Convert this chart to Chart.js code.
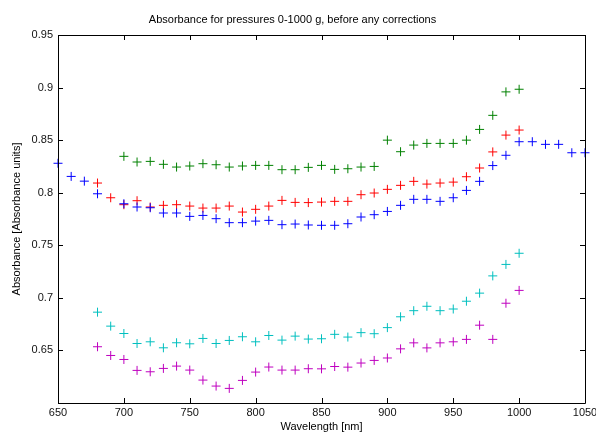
<!DOCTYPE html>
<html>
<head>
<meta charset="utf-8">
<script src="https://cdn.jsdelivr.net/npm/chart.js@4"></script>
<style>
  html, body { margin: 0; padding: 0; background: #fff; }
  #wrap { width: 596px; height: 435px; position: relative; }
</style>
</head>
<body>
<div id="wrap"><canvas id="c" width="596" height="435"></canvas></div>
<script>
// Wavelength grid (nm)
const wavelengths = [650,660,670,680,690,700,710,720,730,740,750,760,770,780,790,800,810,820,830,840,850,860,870,880,890,900,910,920,930,940,950,960,970,980,990,1000,1010,1020,1030,1040,1050];

// Series values (null = no measurement)
const blueValues = [0.828,0.8155,0.811,0.799,null,0.7895,0.7864,0.7857,0.7807,0.7807,0.7775,0.7784,0.7753,0.7715,0.7715,0.773,0.7737,0.7696,0.7702,0.7693,0.769,0.769,0.7705,0.7769,0.7791,0.7822,0.788,0.7937,0.7937,0.7918,0.7952,0.8022,0.8108,0.8258,0.8356,0.8485,0.8485,0.846,0.846,0.838,0.838];
const redValues = [null,null,null,0.8092,0.7952,0.7886,0.7924,0.7864,0.788,0.7886,0.7873,0.7854,0.7854,0.7873,0.7816,0.7842,0.7873,0.7927,0.7908,0.7906,0.7911,0.7918,0.7918,0.7981,0.7997,0.8032,0.807,0.8108,0.8082,0.8092,0.8101,0.8152,0.8235,0.8388,0.8548,0.8596,null,null,null,null,null];
const greenValues = [null,null,null,null,null,0.8346,0.8292,0.8298,0.827,0.8244,0.8254,0.8276,0.8266,0.8244,0.8254,0.826,0.826,0.8219,0.8219,0.8241,0.826,0.8222,0.8228,0.8244,0.825,0.85,0.839,0.8453,0.8469,0.8469,0.8469,0.85,0.8602,0.8736,0.8959,0.8984,null,null,null,null,null];
const cyanValues = [null,null,null,0.6864,0.6731,0.6661,0.6566,0.6582,0.6525,0.6573,0.6563,0.6614,0.6566,0.6595,0.663,0.6582,0.6642,0.6598,0.6636,0.6608,0.6611,0.6653,0.6627,0.6669,0.6659,0.6717,0.682,0.6878,0.692,0.6878,0.6894,0.6968,0.7045,0.7209,0.7318,0.7424,null,null,null,null,null];
const magentaValues = [null,null,null,0.6535,0.6452,0.6414,0.631,0.6297,0.6329,0.6351,0.6313,0.6218,0.6161,0.6139,0.6215,0.6294,0.6342,0.6313,0.6313,0.6326,0.6325,0.6347,0.6341,0.638,0.6405,0.6428,0.6515,0.6572,0.6524,0.6572,0.6582,0.6605,0.674,0.6605,0.6949,0.7071,null,null,null,null,null];

// Tick labels
const xTickLabels = ['650','700','750','800','850','900','950','1000','1050'];
const yTickLabels = ['', '0.65', '0.7', '0.75', '0.8', '0.85', '0.9', '0.95'];

const titleText = 'Absorbance for pressures 0-1000 g, before any corrections';
const xTitle = 'Wavelength [nm]';
const yTitle = 'Absorbance [Absorbance units]';

function toPoints(vals) {
  const pts = [];
  wavelengths.forEach((w, i) => { if (vals[i] !== null) pts.push({x: w, y: vals[i]}); });
  return pts;
}

function ds(vals, color) {
  return {
    data: toPoints(vals),
    showLine: false,
    clip: false,
    pointStyle: 'cross',
    pointRadius: 4.5,
    pointHoverRadius: 4.5,
    pointBorderWidth: 1,
    borderColor: color,
    backgroundColor: color,
    pointBorderColor: color
  };
}

const FONT = "'Liberation Sans', Arial, sans-serif";

const boxPlugin = {
  id: 'matlabBox',
  afterDraw(chart) {
    const {ctx, chartArea: a, scales: {x, y}} = chart;
    ctx.save();
    ctx.strokeStyle = '#000';
    ctx.lineWidth = 1;
    ctx.beginPath();
    ctx.rect(Math.round(a.left) + 0.5, Math.round(a.top) + 0.5, Math.round(a.right - a.left), Math.round(a.bottom - a.top));
    ctx.stroke();
    const L = 5;
    ctx.beginPath();
    x.ticks.forEach((t, i) => {
      const px = Math.round(x.getPixelForTick(i)) + 0.5;
      ctx.moveTo(px, a.bottom); ctx.lineTo(px, a.bottom - L);
      ctx.moveTo(px, a.top); ctx.lineTo(px, a.top + L);
    });
    y.ticks.forEach((t, i) => {
      const py = Math.round(y.getPixelForTick(i)) + 0.5;
      ctx.moveTo(a.left, py); ctx.lineTo(a.left + L, py);
      ctx.moveTo(a.right, py); ctx.lineTo(a.right - L, py);
    });
    ctx.stroke();
    ctx.restore();
  }
};

new Chart(document.getElementById('c'), {
  type: 'scatter',
  data: {
    datasets: [
      ds(blueValues, '#0000ff'),
      ds(greenValues, '#008000'),
      ds(redValues, '#ff0000'),
      ds(cyanValues, '#00bfbf'),
      ds(magentaValues, '#bf00bf')
    ]
  },
  options: {
    responsive: false,
    animation: false,
    events: [],
    layout: { padding: { left: 0, right: 11, top: 0, bottom: 0 } },
    plugins: {
      legend: { display: false },
      tooltip: { enabled: false },
      title: {
        display: true,
        text: titleText,
        color: '#000',
        font: { family: FONT, size: 11, weight: 'normal' },
        padding: { top: 13, bottom: 8.8 }
      }
    },
    scales: {
      x: {
        type: 'linear',
        min: 650, max: 1050,
        ticks: {
          stepSize: 50,
          color: '#111',
          font: { family: FONT, size: 11 },
          padding: 3,
          maxRotation: 0,
          autoSkip: false,
          callback: (v) => { const i = Math.round((v - 650) / 50); return xTickLabels[i] !== undefined ? xTickLabels[i] : ''; }
        },
        grid: { display: false, drawTicks: false },
        border: { display: false },
        title: {
          display: true, text: xTitle, color: '#000',
          font: { family: FONT, size: 11 },
          padding: { top: 0, bottom: 1.5 }
        },
        afterFit(s) { s.height = 32; s.paddingLeft = 0; s.paddingRight = 0; }
      },
      y: {
        type: 'linear',
        min: 0.6, max: 0.95,
        ticks: {
          stepSize: 0.05,
          color: '#111',
          font: { family: FONT, size: 11 },
          padding: 5,
          autoSkip: false,
          callback: (v) => { const i = Math.round((v - 0.6) / 0.05); return yTickLabels[i] !== undefined ? yTickLabels[i] : ''; }
        },
        grid: { display: false, drawTicks: false },
        border: { display: false },
        title: {
          display: true, text: yTitle, color: '#000',
          font: { family: FONT, size: 11 },
          padding: { top: 10, bottom: 0 }
        },
        afterFit(s) { s.width = 58; s.paddingTop = 0; s.paddingBottom = 0; }
      }
    }
  },
  plugins: [boxPlugin]
});
</script>
</body>
</html>
